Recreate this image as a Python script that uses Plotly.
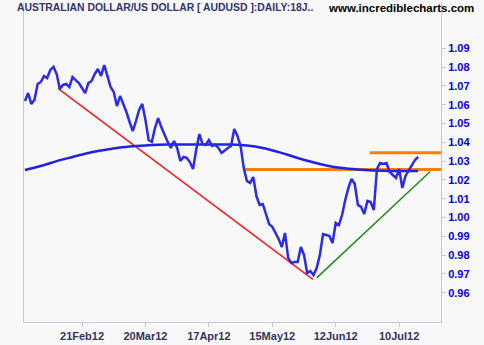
import pandas as pd
import plotly.graph_objects as go

# Trading days (weekdays) 26 Jan 2012 .. 18 Jul 2012
dates = pd.bdate_range("2012-01-26", "2012-07-18")

close = [
    1.0620, 1.0662, 1.0604, 1.0625, 1.0710, 1.0721, 1.0753, 1.0742, 1.0785, 1.0801,
    1.0763, 1.0684, 1.0705, 1.0710, 1.0694, 1.0747, 1.0731, 1.0715, 1.0689, 1.0662,
    1.0715, 1.0726, 1.0763, 1.0790, 1.0753, 1.0811, 1.0753, 1.0694, 1.0668, 1.0593,
    1.0646, 1.0604, 1.0561, 1.0508, 1.0460, 1.0513, 1.0572, 1.0604, 1.0519, 1.0412,
    1.0402, 1.0476, 1.0529, 1.0481, 1.0439, 1.0402, 1.0370, 1.0407, 1.0370, 1.0301,
    1.0322, 1.0317, 1.0295, 1.0258, 1.0359, 1.0444, 1.0391, 1.0386, 1.0412, 1.0380,
    1.0386, 1.0370, 1.0343, 1.0359, 1.0370, 1.0380, 1.0471, 1.0434, 1.0380, 1.0263,
    1.0194, 1.0184, 1.0215, 1.0114, 1.0067, 1.0072, 1.0024, 0.9965, 0.9950, 0.9918,
    0.9886, 0.9843, 0.9918, 0.9785, 0.9758, 0.9763, 0.9763, 0.9843, 0.9801, 0.9705,
    0.9715, 0.9694, 0.9731, 0.9801, 0.9912, 0.9907, 0.9902, 0.9864, 0.9971, 0.9960,
    1.0013, 1.0093, 1.0157, 1.0205, 1.0178, 1.0067, 1.0056, 1.0019, 1.0088, 1.0082,
    1.0040, 1.0258, 1.0290, 1.0285, 1.0290, 1.0242, 1.0226, 1.0210, 1.0258, 1.0157,
    1.0221, 1.0247, 1.0279, 1.0306, 1.0322,
]

# moving average read at every 5th trading day (plus the last)
ma_idx = [0, 5, 10, 15, 20, 25, 30, 35, 40, 45, 50, 55, 60, 65, 70, 75, 80, 85, 90,
          95, 100, 105, 110, 115, 120, 124]
ma_val = [1.0253, 1.0274, 1.0300, 1.0322, 1.0343, 1.0359, 1.0372, 1.0380, 1.0386,
          1.0388, 1.0388, 1.0388, 1.0388, 1.0388, 1.0383, 1.0370, 1.0348, 1.0322,
          1.0298, 1.0277, 1.0263, 1.0255, 1.0250, 1.0247, 1.0247, 1.0247]

# trend lines (trading-day index, price)
red_x, red_y = [10.5, 90.8], [1.0686, 0.9671]
green_x, green_y = [92.0, 127.8], [0.9679, 1.0245]
orange_lo_x, orange_lo_y = [69.0, 131.2], [1.0255, 1.0255]
orange_hi_x, orange_hi_y = [108.8, 131.2], [1.0345, 1.0345]

tick_dates = ["2012-02-21", "2012-03-20", "2012-04-17", "2012-05-15", "2012-06-12", "2012-07-10"]
tick_text = ["21Feb12", "20Mar12", "17Apr12", "15May12", "12Jun12", "10Jul12"]
y_ticks = [0.96, 0.97, 0.98, 0.99, 1.00, 1.01, 1.02, 1.03, 1.04, 1.05, 1.06, 1.07, 1.08, 1.09]

title_text = "AUSTRALIAN DOLLAR/US DOLLAR [ AUDUSD ]:DAILY:18J.."
site_text = "www.incrediblecharts.com"

assert len(dates) == len(close)
x = list(range(len(close)))
date_pos = {d.strftime("%Y-%m-%d"): i for i, d in enumerate(dates)}
tick_vals = [date_pos[d] for d in tick_dates]

fig = go.Figure()
fig.add_trace(go.Scatter(x=red_x, y=red_y, mode="lines", line=dict(color="#ff1a1a", width=1.5), hoverinfo="skip"))
fig.add_trace(go.Scatter(x=green_x, y=green_y, mode="lines", line=dict(color="#228b22", width=1.5), hoverinfo="skip"))
fig.add_trace(go.Scatter(x=orange_lo_x, y=orange_lo_y, mode="lines", line=dict(color="#ff8000", width=3), hoverinfo="skip"))
fig.add_trace(go.Scatter(x=orange_hi_x, y=orange_hi_y, mode="lines", line=dict(color="#ff8000", width=3), hoverinfo="skip"))
fig.add_trace(go.Scatter(x=ma_idx, y=ma_val, mode="lines", line=dict(color="#2020e6", width=2.5, shape="spline"), hoverinfo="skip"))
fig.add_trace(go.Scatter(x=x, y=close, mode="lines", line=dict(color="#2a2af0", width=2.5), hoverinfo="skip"))

axis_col = "#c8c8dc"
FONT = "Liberation Sans, Arial, sans-serif"
# plot area: left 24, right 441, top 3, bottom 322 (pixels)
PW, PH = 417.0, 319.0
fig.update_layout(
    width=484, height=345,
    margin=dict(l=24, r=43, t=3, b=23),
    paper_bgcolor="#f8f8f8", plot_bgcolor="#f8f8f8",
    showlegend=False,
    font=dict(family=FONT),
    xaxis=dict(range=[-0.3, 131.2], tickmode="array", tickvals=tick_vals, ticktext=tick_text,
               showgrid=False, zeroline=False, showline=True, linecolor=axis_col, linewidth=1,
               ticks="outside", ticklen=4, tickcolor=axis_col,
               tickfont=dict(size=11, color="#333366", family=FONT, weight="bold"),
               mirror=False),
    yaxis=dict(range=[0.94441, 1.11410], side="right", tickmode="array", tickvals=y_ticks,
               ticktext=[f"{v:.2f}" for v in y_ticks],
               showgrid=False, zeroline=False, showline=True, linecolor=axis_col, linewidth=1,
               mirror=True, ticks="outside", ticklen=4, tickcolor=axis_col,
               tickfont=dict(size=11, color="#0000ee", family=FONT, weight="bold")),
    annotations=[
        dict(text=title_text, xref="paper", yref="paper",
             x=(15 - 24) / PW, y=(322 - 8) / PH, showarrow=False, xanchor="left", yanchor="middle",
             font=dict(size=10.4, color="#333377", family=FONT, weight="bold")),
        dict(text=site_text, xref="paper", yref="paper",
             x=(476 - 24) / PW, y=(322 - 8) / PH, showarrow=False, xanchor="right", yanchor="middle",
             font=dict(size=11.5, color="#000000", family=FONT, weight="bold")),
    ],
)
fig.write_html("out.html")
